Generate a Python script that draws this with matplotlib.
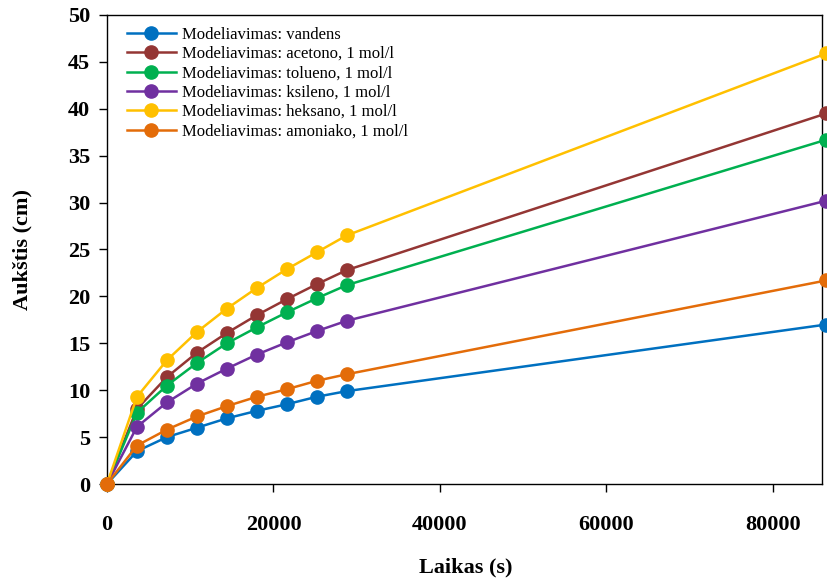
import matplotlib
matplotlib.use("Agg")
import matplotlib.pyplot as plt

time_s = [0, 3600, 7200, 10800, 14400, 18000, 21600, 25200, 28800, 86400]
vandens = [0, 3.5, 5.0, 6.0, 7.0, 7.8, 8.5, 9.3, 9.9, 17.0]
acetono = [0, 8.0, 11.4, 14.0, 16.1, 18.0, 19.7, 21.3, 22.8, 39.5]
tolueno = [0, 7.6, 10.5, 12.9, 15.0, 16.7, 18.3, 19.8, 21.2, 36.7]
ksileno = [0, 6.1, 8.7, 10.7, 12.3, 13.8, 15.1, 16.3, 17.4, 30.2]
heksano = [0, 9.3, 13.2, 16.2, 18.7, 20.9, 22.9, 24.7, 26.5, 45.9]
amoniako = [0, 4.1, 5.8, 7.2, 8.3, 9.3, 10.1, 11.0, 11.7, 21.7]

labels = ["Modeliavimas: vandens", "Modeliavimas: acetono, 1 mol/l",
          "Modeliavimas: tolueno, 1 mol/l", "Modeliavimas: ksileno, 1 mol/l",
          "Modeliavimas: heksano, 1 mol/l", "Modeliavimas: amoniako, 1 mol/l"]
series = [vandens, acetono, tolueno, ksileno, heksano, amoniako]
colors = ["#0070C0", "#943634", "#00B050", "#7030A0", "#FFC000", "#E36C09"]

x_ticks = [0, 20000, 40000, 60000, 80000]
y_ticks = list(range(0, 51, 5))

plt.rcParams['font.family'] = ['Liberation Serif', 'DejaVu Serif']

W, H = 827, 578
fig = plt.figure(figsize=(W / 100, H / 100), dpi=100)
left_px, right_px, top_px, bot_px = 107, 822, 15, 484
ax = fig.add_axes([left_px / W, 1 - bot_px / H, (right_px - left_px) / W, (bot_px - top_px) / H])

for ys, lab, c in zip(series, labels, colors):
    ax.plot(time_s, ys, color=c, lw=1.8, marker='o', ms=9.5, label=lab, clip_on=False, zorder=3)

ax.set_xlim(0, 85900)
ax.set_ylim(0, 50)
ax.set_xticks(x_ticks)
ax.set_yticks(y_ticks)
ax.tick_params(axis='both', direction='out', length=6, width=1, labelsize=16, pad=6)
ax.tick_params(axis='x', pad=16)
for lbl in ax.get_xticklabels() + ax.get_yticklabels():
    lbl.set_fontweight('bold')
for s in ax.spines.values():
    s.set_linewidth(1.0)

ax.set_xlabel("Laikas (s)", fontsize=16, fontweight='bold')
ax.set_ylabel("Aukštis (cm)", fontsize=16, fontweight='bold')
ax.xaxis.set_label_coords((466 - left_px) / (right_px - left_px), -(567 - bot_px) / (bot_px - top_px))
ax.yaxis.set_label_coords(-(left_px - 22) / (right_px - left_px), 0.5)
ax.xaxis.label.set_va('center')
ax.yaxis.label.set_va('center')

leg = ax.legend(loc='upper left', frameon=False, fontsize=12, handlelength=2.9,
                handletextpad=0.4, labelspacing=0.2, borderaxespad=0.3,
                bbox_to_anchor=(0.012, 1.0))

fig.savefig("out.png", dpi=100)
